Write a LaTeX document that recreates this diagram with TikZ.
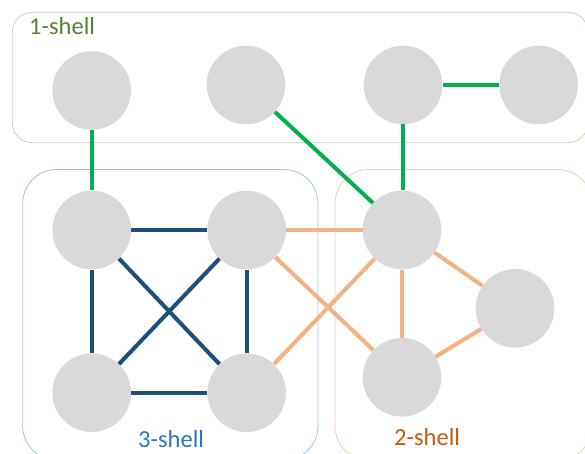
\documentclass[tikz,border=0pt]{standalone}
\usepackage{fontspec}
\setmainfont{Carlito}
\definecolor{nodegray}{HTML}{D9D9D9}
\definecolor{greenline}{HTML}{00B050}
\definecolor{blueline}{HTML}{1F4E79}
\definecolor{orangeline}{HTML}{F4B183}
\definecolor{oneborder}{HTML}{C5D6AE}
\definecolor{onetext}{HTML}{548235}
\definecolor{threeborder}{HTML}{9DC3E6}
\definecolor{threetext}{HTML}{2E75B6}
\definecolor{twoborder}{HTML}{F8CBAD}
\definecolor{twotext}{HTML}{C55A11}
\begin{document}
\begin{tikzpicture}[x=1pt,y=-1pt,
  vtx/.style={circle,fill=nodegray,minimum size=78.6pt,inner sep=0pt},
  gedge/.style={greenline,line width=4pt},
  bedge/.style={blueline,line width=4pt},
  oedge/.style={orangeline,line width=4pt},
  shelllabel/.style={anchor=base west,font=\fontsize{24.5}{28}\selectfont,inner sep=0pt}]
\useasboundingbox (0,0) rectangle (585,454);
\clip (0,0) rectangle (585,454);
% shells
\draw[oneborder,line width=0.8pt,rounded corners=20pt] (12.3,12.3) rectangle (588,142.7);
\draw[threeborder,line width=0.8pt,rounded corners=34pt] (22.7,169.5) rectangle (318,460);
\draw[twoborder,line width=0.8pt,rounded corners=34pt] (335,169.5) rectangle (592,460);
\node[shelllabel,text=onetext] (l1) at (29,35) {1-shell};
\node[shelllabel,text=threetext] (l3) at (138,447) {3-shell};
\node[shelllabel,text=twotext] (l2) at (394,445) {2-shell};
% nodes
\node[vtx] (a1) at (91.7,90.5) {};
\node[vtx] (a2) at (246,85) {};
\node[vtx] (a3) at (403,85) {};
\node[vtx] (a4) at (538.7,85) {};
\node[vtx] (t1) at (91.7,230) {};
\node[vtx] (t2) at (246.7,230) {};
\node[vtx] (t3) at (91.7,392.7) {};
\node[vtx] (t4) at (246.7,392.7) {};
\node[vtx] (s1) at (402,230) {};
\node[vtx] (s2) at (515,308.3) {};
\node[vtx] (s3) at (402,377.3) {};
% green edges
\draw[gedge] (a1) -- (t1);
\draw[gedge] (a2) -- (s1);
\draw[gedge] (a3) -- (a3 |- s1.north);
\draw[gedge] (a3) -- (a4);
% blue edges
\draw[bedge] (t1) -- (t2);
\draw[bedge] (t1) -- (t3);
\draw[bedge] (t2) -- (t4);
\draw[bedge] (t3) -- (t4);
\draw[bedge] (t1) -- (t4);
\draw[bedge] (t2) -- (t3);
% orange edges
\draw[oedge] (t2) -- (s1);
\draw[oedge] (t2) -- (s3);
\draw[oedge] (t4) -- (s1);
\draw[oedge] (s1) -- (s2);
\draw[oedge] (s1) -- (s3);
\draw[oedge] (s2) -- (s3);
\end{tikzpicture}
\end{document}
